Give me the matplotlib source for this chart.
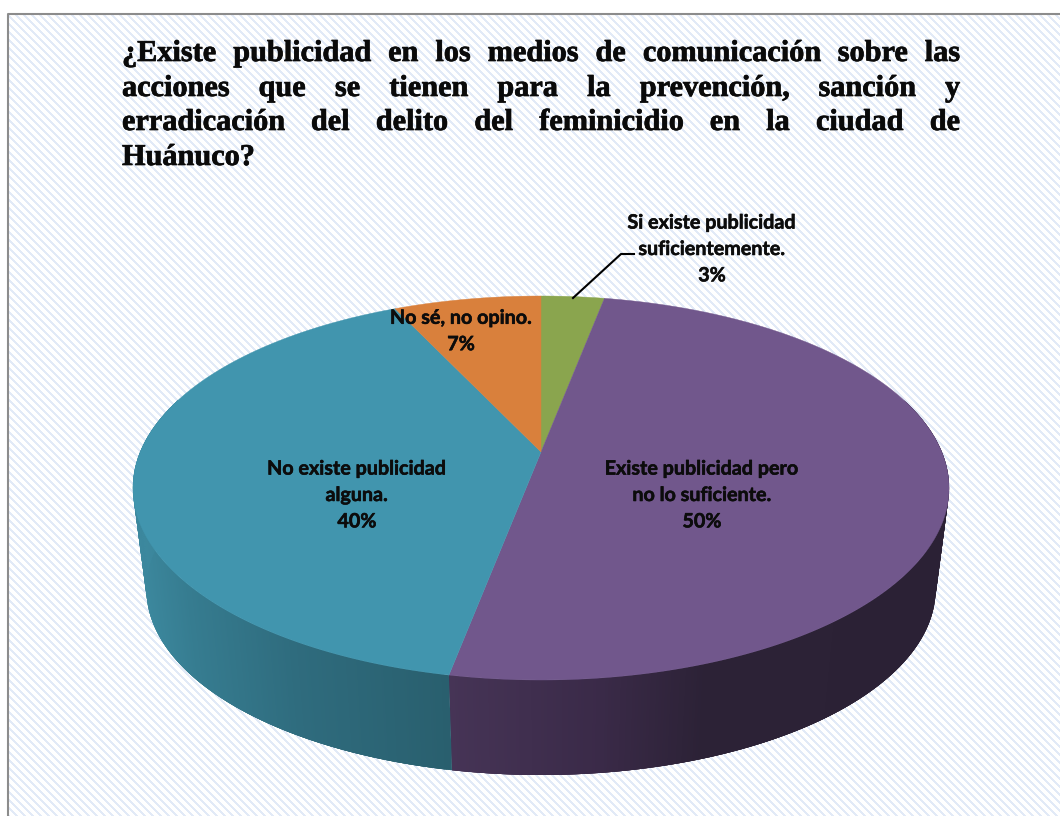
#!/usr/bin/env python3
# -*- coding: utf-8 -*-
# 3D looking pie chart, drawn by hand since matplotlib has no perspective pie
import numpy as np
import matplotlib
matplotlib.use('Agg')
import matplotlib.pyplot as plt
import matplotlib.patheffects as pe
from matplotlib.collections import PolyCollection
from matplotlib.colors import to_rgb

# data
categories = ['Si existe publicidad\nsuficientemente.', 'Existe publicidad pero\nno lo suficiente.',
              'No existe publicidad\nalguna.', 'No sé, no opino.']
values = [3, 50, 40, 7]
top_colors = ['#8aa54e', '#71578c', '#4195ae', '#d9803c']

# side wall colours (x position, colour) for the visible slices
wall_stops = {1: ([452, 600, 700, 950], ['#463456', '#3a2a48', '#2c2236', '#2b2135']),
              2: ([140, 200, 300, 450], ['#3d8aa0', '#367c90', '#2f6c7e', '#295f6e'])}

title_lines = ['¿Existe publicidad en los medios de comunicación sobre las',
               'acciones que se tienen para la prevención, sanción y',
               'erradicación del delito del feminicidio en la ciudad de',
               'Huánuco?']

# label centres in pixels
label_pos = [(712, 249), (702, 495), (357, 495), (461, 331)]

# pie geometry, projective view of a circle
cx, cy = 541, 452
A, h, k = 400.8, 185.25, 0.1875
depth, shrink = 102.5, 0.967

def project(theta, lower=False):
    x, y = np.sin(theta), np.cos(theta)
    w = 1 + k*y
    s = shrink if lower else 1.0
    d = depth if lower else 0.0
    return cx + s*A*x/w, cy + d - s*h*y/w

fig = plt.figure(figsize=(10.6, 8.16), dpi=100)
ax = fig.add_axes([0, 0, 1, 1])
ax.set_xlim(0, 1060); ax.set_ylim(816, 0)
ax.axis('off')

# hatched background
yy, xx = np.mgrid[0:816, 0:1060]
stripes = ((xx - yy) % 8 < 3).astype(float)
bg = np.ones((816, 1060, 3))
bg[stripes == 1] = to_rgb('#e2eaf7')
bg[:15, :] = 1
bg[:, :9] = 1
ax.imshow(bg, extent=(0, 1060, 816, 0), interpolation='bilinear', aspect='auto', zorder=0)
ax.plot([8, 8, 1060], [816, 14, 14], color='#8c8c8c', lw=1.5, zorder=1)

# slices
edges = np.cumsum([0] + values)/sum(values)*2*np.pi

# side walls first, strips overlap so no seams show
for i in wall_stops:
    stops_x, stops_c = wall_stops[i]
    stops_c = np.array([to_rgb(c) for c in stops_c])
    th = np.linspace(edges[i], edges[i+1], 500)
    th = th[np.cos(th) <= 0.3]
    xt, yt = project(th)
    xb, yb = project(th, lower=True)
    polys, cols = [], []
    for j in range(len(th)-1):
        e = min(j+4, len(th)-1)
        polys.append(list(zip(xt[j:e+1], yt[j:e+1])) + list(zip(xb[j:e+1], yb[j:e+1]))[::-1])
        xm = (xb[j] + xb[j+1])/2
        cols.append([np.interp(xm, stops_x, stops_c[:, n]) for n in range(3)])
    ax.add_collection(PolyCollection(polys, facecolors=cols, edgecolors='none', zorder=2))

# top faces
for i in range(len(values)):
    th = np.linspace(edges[i], edges[i+1], 300)
    xt, yt = project(th)
    ax.fill(np.r_[cx, xt], np.r_[cy, yt], color=top_colors[i], lw=0.3, zorder=3)

# labels
for name, val, (lx, ly) in zip(categories, values, label_pos):
    ax.text(lx, ly, '%s\n%d%%' % (name, val), ha='center', va='center', family='Lato',
            fontweight='bold', fontsize=14.2, linespacing=1.4, color='#0c0c0c', zorder=5,
            path_effects=[pe.withStroke(linewidth=0.4, foreground='#0c0c0c')])

# leader line for the 3% slice
ax.plot([573, 621, 634], [298, 254, 254], color='black', lw=1.5, zorder=4)

# justified title, word by word
fig.canvas.draw()
rend = fig.canvas.get_renderer()
left, right = 122, 960
baselines = [61, 96, 130, 165]
def add_word(x, y, word):
    t = ax.text(x, y, word, ha='left', va='baseline', family='Liberation Serif', fontweight='bold',
                fontsize=21.8, color='#0a0a0a', zorder=5,
                path_effects=[pe.withStroke(linewidth=0.5, foreground='#0a0a0a')])
    return t.get_window_extent(rend).width, t
for n, line in enumerate(title_lines):
    words = line.split(' ')
    if len(words) == 1:
        add_word(left, baselines[n], words[0])
        continue
    widths = []
    items = []
    for w in words:
        wd, t = add_word(left, baselines[n], w)
        widths.append(wd); items.append(t)
    gap = (right - left - sum(widths))/(len(words) - 1)
    x = left
    for wd, t in zip(widths, items):
        t.set_x(x)
        x += wd + gap

plt.savefig('out.png', dpi=100)
